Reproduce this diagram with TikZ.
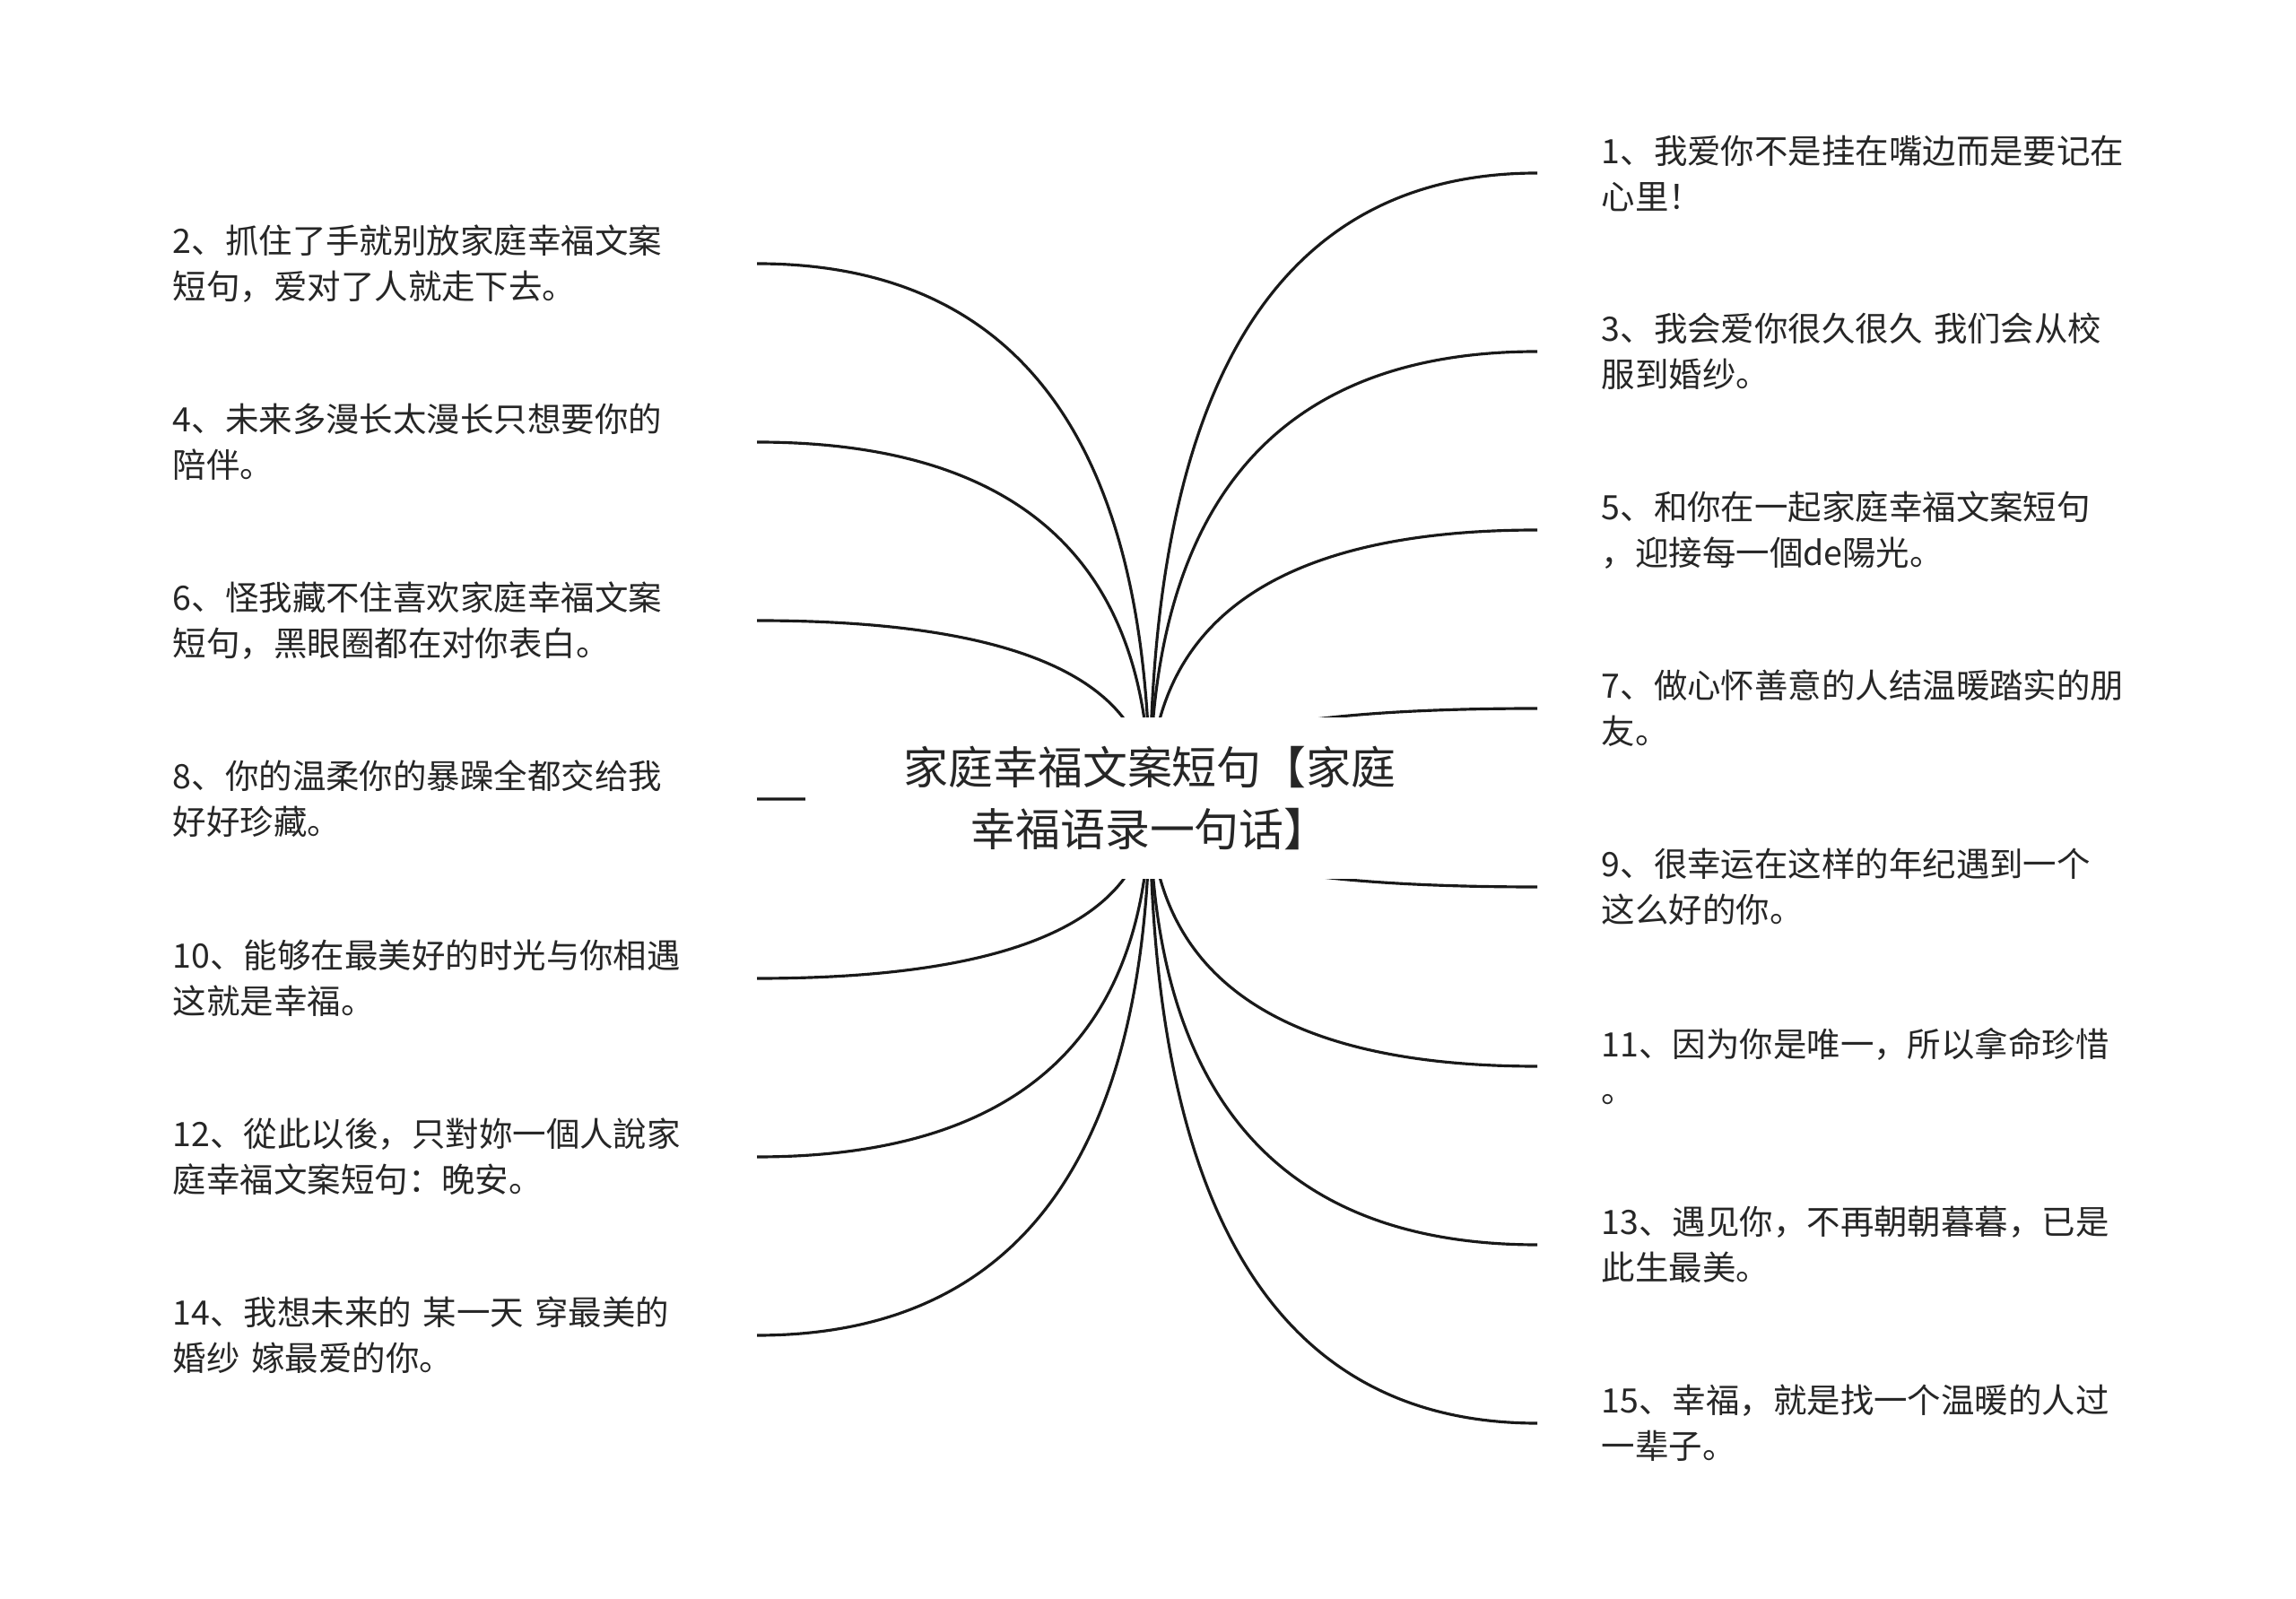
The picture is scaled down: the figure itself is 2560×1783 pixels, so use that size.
\documentclass[tikz,border=0pt]{standalone}
\usepackage{fontspec}
\setmainfont{Noto Sans CJK SC}
\usepackage{tikz}
\usetikzlibrary{positioning,calc,backgrounds}

\begin{document}
\begin{tikzpicture}[
    x=0.01cm, y=-0.01cm,
    root/.style={shape=rectangle, fill=white, align=center, inner sep=0pt,
        minimum width=7.67cm, minimum height=1.8cm, text=black!85,
        font=\fontsize{14.2}{19.5}\selectfont},
    lleaf/.style={anchor=east, inner sep=0pt, text width=6.5cm, align=left,
        text=black!85, font=\fontsize{10.65}{14.5}\selectfont},
    rleaf/.style={anchor=west, inner xsep=7.1mm, inner ysep=0pt, text width=6cm,
        align=left, text=black!85, font=\fontsize{10.65}{14.5}\selectfont},
    branch/.style={draw=black!90, line width=0.9pt,
        to path={.. controls ($(\tikztostart)!2/3!(\tikztostart |- \tikztotarget)$)
            and ($(\tikztotarget)!2/3!(\tikztostart |- \tikztotarget)$) .. (\tikztotarget)}}
]
    \useasboundingbox (0,0) rectangle (2560,1783);

    % Root
    \node[root] (Root) at (1282, 890) {家庭幸福文案短句【家庭\\幸福语录一句话】};

    % Left topics
    \node[lleaf] (T2) at (844, 294) {2、抓住了手就别放家庭幸福文案\\短句，爱对了人就走下去。};
    \node[lleaf] (T4) at (844, 493) {4、未来多漫长太漫长只想要你的\\陪伴。};
    \node[lleaf] (T6) at (844, 692) {6、怪我藏不住喜欢家庭幸福文案\\短句，黑眼圈都在对你表白。};
    \node[lleaf] (T8) at (844, 891) {8、你的温柔你的暴躁全都交给我\\好好珍藏。};
    \node[lleaf] (T10) at (844, 1091) {10、能够在最美好的时光与你相遇\\这就是幸福。};
    \node[lleaf] (T12) at (844, 1290) {12、從此以後，只對妳一個人說家\\庭幸福文案短句：晚安。};
    \node[lleaf] (T14) at (844, 1489) {14、我想未来的 某一天 穿最美的\\婚纱 嫁最爱的你。};

    % Right topics
    \node[rleaf] (T1) at (1714, 193) {1、我爱你不是挂在嘴边而是要记在\\心里！};
    \node[rleaf] (T3) at (1714, 392) {3、我会爱你很久很久 我们会从校\\服到婚纱。};
    \node[rleaf] (T5) at (1714, 591) {5、和你在一起家庭幸福文案短句\\，迎接每一個de陽光。};
    \node[rleaf] (T7) at (1714, 790) {7、做心怀善意的人结温暖踏实的朋\\友。};
    \node[rleaf] (T9) at (1714, 989) {9、很幸运在这样的年纪遇到一个\\这么好的你。};
    \node[rleaf] (T11) at (1714, 1189) {11、因为你是唯一，所以拿命珍惜\\。};
    \node[rleaf] (T13) at (1714, 1388) {13、遇见你，不再朝朝暮暮，已是\\此生最美。};
    \node[rleaf] (T15) at (1714, 1587) {15、幸福，就是找一个温暖的人过\\一辈子。};

    % Branches
    \begin{pgfonlayer}{background}
    \draw[branch] (Root.center) to (T2.east);
    \draw[branch] (Root.center) to (T4.east);
    \draw[branch] (Root.center) to (T6.east);
    \draw[branch] (Root.center) to (T8.east);
    \draw[branch] (Root.center) to (T10.east);
    \draw[branch] (Root.center) to (T12.east);
    \draw[branch] (Root.center) to (T14.east);
    \draw[branch] (Root.center) to (T1.west);
    \draw[branch] (Root.center) to (T3.west);
    \draw[branch] (Root.center) to (T5.west);
    \draw[branch] (Root.center) to (T7.west);
    \draw[branch] (Root.center) to (T9.west);
    \draw[branch] (Root.center) to (T11.west);
    \draw[branch] (Root.center) to (T13.west);
    \draw[branch] (Root.center) to (T15.west);
    \end{pgfonlayer}

\end{tikzpicture}
\end{document}
